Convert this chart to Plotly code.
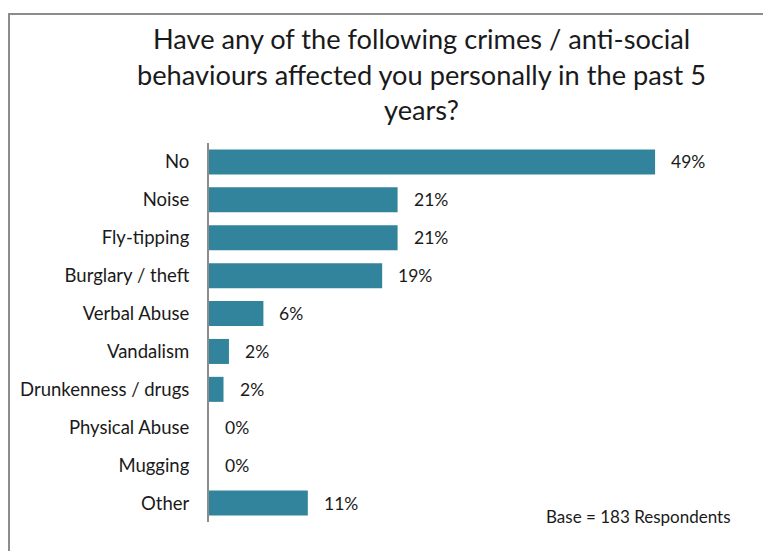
import plotly.graph_objects as go

categories = ["No", "Noise", "Fly-tipping", "Burglary / theft", "Verbal Abuse",
              "Vandalism", "Drunkenness / drugs", "Physical Abuse", "Mugging", "Other"]
values = [49.2, 20.8, 20.8, 19.1, 6.0, 2.2, 1.6, 0.0, 0.0, 10.9]
value_labels = ["49%", "21%", "21%", "19%", "6%", "2%", "2%", "0%", "0%", "11%"]

title_lines = ["Have any of the following crimes / anti-social",
               "behaviours affected you personally in the past 5",
               "years?"]
base_note = "Base = 183 Respondents"

FONT = "Lato, 'Open Sans', sans-serif"
W, H = 771, 551
OFF = 8  # page body margin
ML, MR, MT, MB = 201, 26, 135, 37
PW, PH = W - ML - MR, H - MT - MB


def px(x):
    return (x - OFF - ML) / PW


def py(y):
    return (MT + PH - (y - OFF)) / PH


fig = go.Figure()
fig.add_trace(go.Bar(
    x=values, y=categories, orientation="h",
    marker=dict(color="#31849B", line=dict(width=0)),
    width=0.66, hoverinfo="skip",
))

for c, v, t in zip(categories, values, value_labels):
    fig.add_annotation(x=v, y=c, text=t, showarrow=False, xanchor="left",
                       xshift=14, font=dict(family=FONT, size=17.5, color="#1a1a1a"))

for i, line in enumerate(title_lines):
    fig.add_annotation(xref="paper", yref="paper", x=px(421), y=py([39, 74, 109][i]),
                       text=line, showarrow=False, xanchor="center", yanchor="middle",
                       font=dict(family=FONT, size=27.2, color="#1a1a1a"))

fig.add_annotation(xref="paper", yref="paper",
                   x=px(638), y=py(516),
                   text=base_note, showarrow=False, xanchor="center", yanchor="middle",
                   font=dict(family=FONT, size=17, color="#1a1a1a"))

# outer frame (top and left visible)
fig.add_shape(type="rect", xref="paper", yref="paper",
              x0=px(9), x1=px(800), y0=py(600), y1=py(14),
              line=dict(color="#8c8c8c", width=2), layer="below")

fig.update_layout(
    width=W, height=H,
    margin=dict(l=ML, r=MR, t=MT, b=MB),
    paper_bgcolor="white", plot_bgcolor="white",
    showlegend=False,
    xaxis=dict(range=[0, 60], visible=False, showgrid=False, zeroline=False),
    yaxis=dict(autorange="reversed", showline=True, linecolor="#8c8c8c", linewidth=2,
               ticks="", showgrid=False, ticklabelstandoff=14,
               tickfont=dict(family=FONT, size=18.5, color="#1a1a1a")),
)

fig.write_html("out.html")
